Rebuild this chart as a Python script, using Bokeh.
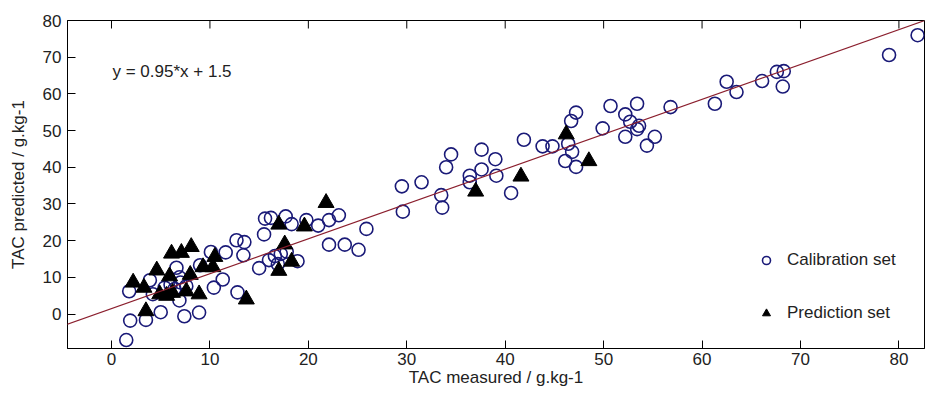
import math
from bokeh.plotting import figure
from bokeh.models import (Slope, Legend, LegendItem, Range1d,
                          FixedTicker, Label, ColumnDataSource)
from bokeh.embed import file_html
from bokeh.resources import INLINE

# ---- data ----
cal_x = [1.5, 1.9, 1.8, 3.5, 3.9, 4.2, 5.0, 5.4, 6.0, 6.4, 7.0, 7.6, 6.6, 6.9, 6.9,
         7.4, 8.9, 9.0, 10.1, 10.4, 11.3, 11.6, 12.8, 12.7, 13.5, 13.4, 15.0, 15.5,
         15.6, 16.2, 16.0, 16.6, 17.2, 17.8, 16.9, 17.7, 18.3, 18.9, 19.8, 21.0,
         22.1, 23.1, 22.1, 23.7, 25.1, 25.9, 29.6, 29.5, 31.5, 33.6, 33.5, 34.0,
         34.5, 36.4, 36.4, 37.6, 37.6, 39.0, 39.1, 40.6, 41.9, 43.8, 44.8, 46.7,
         47.2, 46.1, 46.8, 47.2, 46.4, 49.9, 50.7, 52.2, 52.7, 53.4, 53.6, 53.4,
         52.2, 54.4, 55.2, 56.8, 61.3, 62.5, 63.5, 66.1, 67.6, 68.3, 68.2, 79.0, 81.9]
cal_y = [-7.1, -1.8, 6.2, -1.6, 9.2, 5.4, 0.5, 7.2, 8.0, 6.8, 8.6, 7.6, 12.6, 10.0, 3.7,
         -0.6, 0.4, 13.3, 16.9, 7.2, 9.4, 16.8, 5.9, 20.1, 19.6, 16.0, 12.5, 21.7,
         26.0, 26.2, 14.7, 15.8, 16.4, 17.0, 13.6, 26.6, 24.5, 14.4, 25.6, 24.1,
         25.6, 26.9, 18.9, 18.9, 17.5, 23.2, 27.9, 34.8, 35.9, 29.0, 32.4, 40.0,
         43.5, 37.7, 35.9, 44.8, 39.4, 42.2, 37.7, 33.0, 47.5, 45.7, 45.7, 52.6,
         54.9, 41.7, 44.2, 40.1, 46.4, 50.6, 56.7, 54.4, 52.4, 57.3, 51.3, 50.4,
         48.3, 45.9, 48.3, 56.4, 57.3, 63.3, 60.5, 63.5, 66.0, 66.2, 62.0, 70.6, 76.0]

pred_x = [2.2, 3.3, 3.5, 4.6, 4.9, 5.9, 6.1, 7.1, 8.1, 6.2, 5.6, 7.6, 8.0, 8.9, 9.3,
          10.3, 10.5, 13.7, 17.0, 17.0, 17.6, 18.3, 19.6, 21.8, 37.0, 41.6, 46.2, 48.5]
pred_y = [8.6, 7.2, 0.8, 11.9, 5.4, 10.3, 16.5, 16.7, 18.3, 5.8, 5.0, 6.2, 10.7, 5.4, 12.8,
          12.8, 15.6, 4.0, 24.4, 11.8, 19.0, 14.3, 23.9, 30.3, 33.4, 37.5, 49.0, 41.7]

fit_slope = 0.95
fit_intercept = 1.5
equation_text = "y = 0.95*x + 1.5"

x_ticks = [0, 10, 20, 30, 40, 50, 60, 70, 80]
y_ticks = [0, 10, 20, 30, 40, 50, 60, 70, 80]
x_label = "TAC measured / g.kg-1"
y_label = "TAC predicted / g.kg-1"
legend_labels = ["Calibration set", "Prediction set"]

FONT = "Liberation Sans"
Y_MIN, Y_MAX = -9.4, 80
X_MIN, X_MAX = -4.47, 82.6

p = figure(width=926, height=389, output_backend="svg", toolbar_location=None,
           x_range=Range1d(X_MIN, X_MAX), y_range=Range1d(Y_MIN, Y_MAX),
           min_border_left=67, min_border_right=2, min_border_top=20,
           min_border_bottom=30, background_fill_color="white")
p.xgrid.visible = False
p.ygrid.visible = False
p.outline_line_color = "black"
p.outline_line_width = 1

for ax, ticks in ((p.xaxis[0], x_ticks), (p.yaxis[0], y_ticks)):
    ax.ticker = FixedTicker(ticks=ticks)
    ax.major_tick_in = 8
    ax.major_tick_out = 0
    ax.minor_tick_line_color = None
    ax.axis_line_color = "black"
    ax.major_tick_line_color = "black"
    ax.major_label_text_font = FONT
    ax.major_label_text_font_size = "17px"
    ax.major_label_text_color = "#222222"
    ax.axis_label_text_font = FONT
    ax.axis_label_text_font_size = "17px"
    ax.axis_label_text_font_style = "normal"
    ax.axis_label_text_color = "#222222"

p.xaxis[0].axis_label = x_label
p.yaxis[0].axis_label = y_label
p.xaxis[0].major_label_standoff = 4
p.xaxis[0].axis_label_standoff = 0
p.yaxis[0].major_label_standoff = 6
p.yaxis[0].axis_label_standoff = 12

# top-edge inward ticks (mirrored from the bottom axis), clipped to the frame
p.scatter(x=x_ticks, y=[Y_MAX] * len(x_ticks), marker="dash", angle=math.pi / 2,
          size=16, line_color="black", line_width=1)

p.add_layout(Slope(gradient=fit_slope, y_intercept=fit_intercept,
                   line_color="#8b1f2e", line_width=1.2))

cal_src = ColumnDataSource(dict(x=cal_x, y=cal_y))
pred_src = ColumnDataSource(dict(x=pred_x, y=pred_y))
r_cal = p.scatter("x", "y", source=cal_src, marker="circle", size=13,
                  fill_color=None, line_color="#1a1a78", line_width=1.6)
r_pred = p.scatter("x", "y", source=pred_src, marker="triangle", size=16,
                   fill_color="black", line_color="black", line_width=1)

p.add_layout(Label(x=0.1, y=66.1, text=equation_text, text_font=FONT,
                   text_font_size="17px", text_baseline="middle",
                   text_color="#222222"))

legend = Legend(items=[LegendItem(label=legend_labels[0], renderers=[r_cal]),
                       LegendItem(label=legend_labels[1], renderers=[r_pred])],
                location=(689, 25), border_line_color=None, background_fill_alpha=0,
                padding=0, margin=0, spacing=33, glyph_width=20, glyph_height=20,
                label_height=20, label_standoff=11, label_text_font=FONT,
                label_text_font_size="17px", label_text_color="#222222")
p.add_layout(legend)

open("out.html", "w").write(file_html(p, INLINE))
